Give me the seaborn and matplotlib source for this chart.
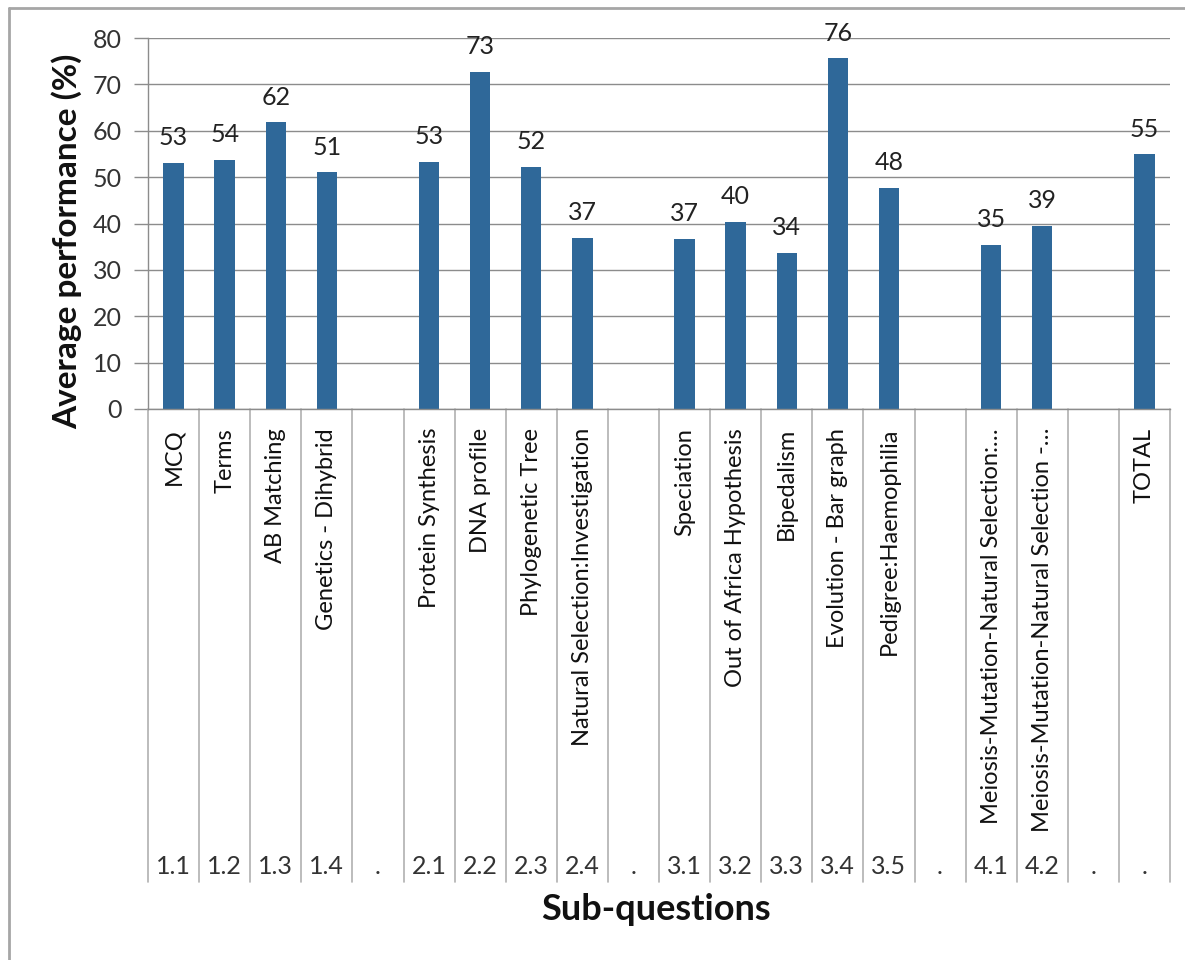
import matplotlib
matplotlib.use("Agg")
import matplotlib.pyplot as plt
import matplotlib.transforms as mtransforms
from matplotlib.lines import Line2D
import pandas as pd
import seaborn as sns

# ─── Data ────────────────────────────────────────────────────────────────────
# one slot per category on the axis (blank "." slots are the group gaps)
slot_ids = [f"s{i}" for i in range(20)]
sub_codes = ["1.1", "1.2", "1.3", "1.4", ".",
             "2.1", "2.2", "2.3", "2.4", ".",
             "3.1", "3.2", "3.3", "3.4", "3.5", ".",
             "4.1", "4.2", ".", "."]
sub_names = ["MCQ", "Terms", "AB Matching", "Genetics - Dihybrid", "",
             "Protein Synthesis", "DNA profile", "Phylogenetic Tree",
             "Natural Selection:Investigation", "",
             "Speciation", "Out of Africa Hypothesis", "Bipedalism",
             "Evolution - Bar graph", "Pedigree:Haemophilia", "",
             "Meiosis-Mutation-Natural Selection:\u2026",
             "Meiosis-Mutation-Natural Selection -\u2026", "", "TOTAL"]
scores = [53.0, 53.8, 61.8, 51.0, None,
          53.3, 72.7, 52.2, 36.95, None,
          36.7, 40.3, 33.6, 75.6, 47.7, None,
          35.3, 39.4, None, 54.9]

BAR_COLOR = "#2F6899"
LINE_GRAY = "#8C8C8C"
W, H = 1185, 960

df = pd.DataFrame({"slot": slot_ids, "score": scores}).dropna()

sns.set_style("white")
plt.rcParams["font.family"] = ["Lato", "DejaVu Sans"]

fig = plt.figure(figsize=(W / 100, H / 100), dpi=100)
ax = fig.add_axes([148 / W, 1 - 409 / H, (1170 - 148) / W, (409 - 38) / H])

sns.barplot(data=df, x="slot", y="score", order=slot_ids, color=BAR_COLOR,
            saturation=1, width=0.4, linewidth=0, errorbar=None, ax=ax)

ax.bar_label(ax.containers[0], fmt="%.0f", padding=10, fontsize=18,
             color="#222222")

ax.set_ylim(0, 80)
ax.set_xlim(-0.5, len(slot_ids) - 0.5)
ax.set_yticks(range(0, 81, 10))
ax.yaxis.grid(True, color=LINE_GRAY, lw=1)
ax.set_axisbelow(True)
ax.set_xticks([])
ax.set_xlabel("")
ax.set_ylabel("")
ax.tick_params(axis="y", labelsize=18, labelcolor="#333333", length=10,
               width=1, color=LINE_GRAY, pad=9, left=True)
for side in ("top", "right"):
    ax.spines[side].set_visible(False)
for side in ("left", "bottom"):
    ax.spines[side].set_color(LINE_GRAY)
    ax.spines[side].set_linewidth(1)

# ─── Two-level category axis (Excel style) ────────────────────────────────────
trans = mtransforms.blended_transform_factory(ax.transData, fig.transFigure)
y_top, y_bot = 1 - 409 / H, 1 - 882 / H
for i in range(len(slot_ids) + 1):
    ax.add_line(Line2D([i - 0.5, i - 0.5], [y_top, y_bot], transform=trans,
                       color="#B0B0B0", lw=1.2, clip_on=False))
for i, (code, name) in enumerate(zip(sub_codes, sub_names)):
    if name:
        ax.text(i, 1 - 428 / H, name, transform=trans, rotation=90,
                ha="center", va="top", fontsize=17, color="#111111")
    ax.text(i, 1 - 866 / H, code, transform=trans, ha="center",
            va="center", fontsize=18, color="#333333")

fig.text(656 / W, 1 - 910 / H, "Sub-questions", ha="center", va="center",
         fontsize=26, fontweight="bold", color="#111111")
fig.text(67 / W, 1 - 241 / H, "Average performance (%)", ha="center",
         va="center", rotation=90, fontsize=24, fontweight="bold",
         color="#111111")

# chart frame
fig.add_artist(Line2D([9 / W, 9 / W], [0, 1 - 8 / H], transform=fig.transFigure,
                      color="#A6A6A6", lw=2))
fig.add_artist(Line2D([9 / W, 1], [1 - 8 / H, 1 - 8 / H],
                      transform=fig.transFigure, color="#A6A6A6", lw=2))

fig.savefig("out.png", dpi=100)
